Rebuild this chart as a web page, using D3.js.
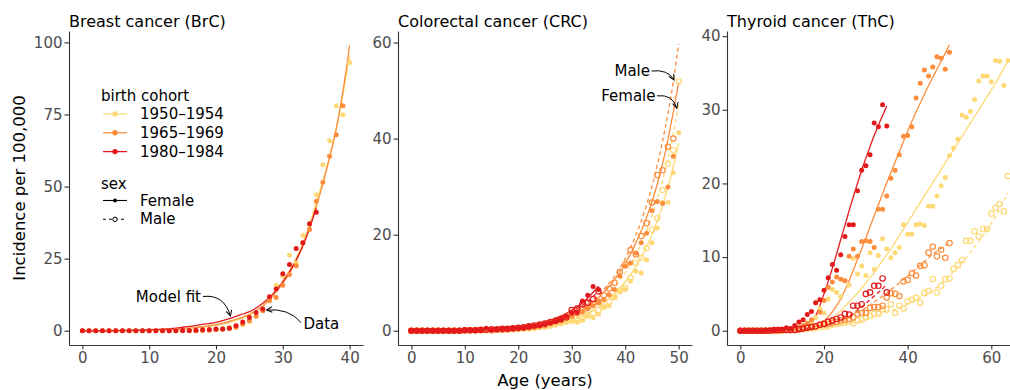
<!DOCTYPE html>
<html>
<head>
<meta charset="utf-8">
<script src="https://cdn.jsdelivr.net/npm/d3@7"></script>
<style>
  body { margin: 0; background: #fff; }
  svg { display: block; font-family: "DejaVu Sans", sans-serif; }
</style>
</head>
<body>
<script>
// values are incidence per 100,000, index = age in years (0, 1, 2, ...)
const cohorts = ["1950–1954", "1965–1969", "1980–1984"];
const cohortColors = ["#FED976", "#FD8D3C", "#E31A1C"];
const sexes = ["Female", "Male"];

// ---- breast cancer (female only) ----
const brcF1950 = [0,0,0,0,0,0,0,0,0,0, 0,0,0,0,0,0,0.1,0.1,0.2,0.3, 0.5,0.8,1.2,1.8,2.2,3.2,5.0,7.0,10.5,15.8, 19.0,26.2,23.5,33.1,37.0,47.2,57.6,65.9,78.0,74.9, 93.0];
const brcF1965 = [0,0,0,0,0,0,0,0,0,0, 0,0,0,0,0,0,0,0,0.1,0.2, 0.3,0.5,0.8,1.2,2.3,3.5,5.0,6.9,10.4,11.5, 15.8,19.5,22.5,30.5,35.1,44.9,51.5,60.5,68.0,78.0];
const brcF1980 = [0,0,0,0,0,0,0,0,0,0, 0,0,0,0,0,0.1,0.1,0.2,0.3,0.4, 0.6,0.6,0.9,1.7,3.0,4.6,6.3,7.5,11.8,14.5, 19.8,23.0,28.5,30.5,37.1,41.1];
const brcFitF1950 = [0,0,0,0,0,0,0,0.05,0.05,0.1, 0.15,0.2,0.3,0.4,0.5,0.65,0.8,1.0,1.25,1.5, 1.8,2.3,2.9,3.6,4.4,5.4,6.8,8.7,11.0,13.8, 17.0,20.8,25.2,30.5,37.0,44.5,52.0,60.5,70.5,82.0, 95.5];
const brcFitF1965 = [0,0,0,0,0,0,0,0.05,0.1,0.1, 0.2,0.25,0.3,0.4,0.55,0.7,0.9,1.1,1.4,1.7, 2.1,2.6,3.2,3.9,4.7,5.7,7.0,8.6,10.7,13.4, 16.5,20.0,24.3,29.5,35.8,43.0,51.0,60.0,70.0,83.0, 99.0];
const brcFitF1980 = [0,0,0,0,0,0.05,0.1,0.15,0.2,0.25, 0.35,0.45,0.55,0.7,0.9,1.2,1.5,1.8,2.2,2.5, 2.9,3.5,4.2,5.0,5.8,6.6,7.9,9.5,11.5,14.0, 17.0,20.5,24.5,29.5,35.5,42.6];

// ---- colorectal cancer ----
const crcF1950 = [0,0,0,0,0,0,0,0,0,0, 0.1,0.1,0.1,0.1,0.1,0.2,0.2,0.2,0.2,0.3, 0.3,0.4,0.4,0.5,0.6,0.8,1.0,1.2,1.6,1.8, 2.0,1.8,2.2,3.0,2.7,3.5,4.9,5.2,7.0,8.1, 8.6,10.3,12.4,12.0,14.8,18.3,21.4,26.7,26.7,32.9, 41.2];
const crcM1950 = [0,0,0,0,0,0,0,0,0,0, 0,0.1,0.1,0.1,0.1,0.1,0.2,0.2,0.2,0.3, 0.4,0.4,0.5,0.6,0.8,0.9,1.1,1.4,1.6,1.9, 2.2,2.0,2.5,3.2,3.6,4.3,5.0,6.1,7.0,8.3, 8.9,11.0,14.1,15.2,17.2,21.0,23.4,29.3,34.8,37.6, 51.9];
const crcF1965 = [0,0,0,0,0,0,0,0,0,0, 0.1,0.1,0.1,0.1,0.1,0.1,0.2,0.2,0.3,0.3, 0.4,0.5,0.6,0.7,0.9,1.2,1.5,1.8,2.1,2.6, 3.0,3.5,3.9,4.6,5.2,6.0,6.5,7.5,8.6,11.4, 13.4,14.1,16.2,18.3,20.3,25.0,26.9,26.5,29.9,36.3];
const crcM1965 = [0,0,0,0,0,0,0,0,0,0, 0.1,0.1,0.1,0.1,0.2,0.1,0.2,0.2,0.3,0.4, 0.5,0.6,0.7,0.9,1.1,1.3,1.7,2.0,2.5,2.9, 3.4,3.8,4.4,5.0,5.6,6.0,7.4,8.8,10.0,12.2, 13.8,16.8,15.9,19.7,22.4,26.7,32.4,33.4,38.3,40.0];
const crcF1980 = [0,0,0,0,0,0,0,0,0,0, 0.1,0.1,0.1,0.1,0.5,0.2,0.3,0.4,0.4,0.5, 0.5,0.6,0.9,1.0,1.1,1.3,1.6,2.0,2.5,3.0, 3.7,3.8,6.2,7.4,9.2,8.6];
const crcM1980 = [0,0,0,0,0,0,0,0,0,0, 0.1,0.1,0.1,0.2,0.2,0.3,0.3,0.4,0.4,0.5, 0.6,0.7,0.9,1.1,1.3,1.5,1.8,2.1,2.4,2.8, 4.3,4.6,5.5,5.8,6.6,8.2];
const crcFitF1950 = [0,0,0,0,0,0,0,0,0,0, 0,0.1,0.1,0.1,0.1,0.1,0.2,0.2,0.3,0.3, 0.4,0.5,0.6,0.7,0.85,1.0,1.2,1.4,1.7,2.0, 2.3,2.7,3.2,3.7,4.3,5.0,5.8,6.7,7.7,8.9, 10.2,11.7,13.4,15.3,17.5,20.0,22.9,26.1,29.9,34.2, 39.0];
const crcFitM1950 = [0,0,0,0,0,0,0,0,0,0, 0,0.1,0.1,0.1,0.1,0.1,0.2,0.3,0.3,0.4, 0.5,0.6,0.7,0.85,1.0,1.2,1.4,1.7,2.0,2.3, 2.7,3.2,3.7,4.3,5.0,5.9,6.8,7.9,9.1,10.5, 12.0,13.8,15.8,18.1,20.8,23.8,27.3,31.2,35.8,41.0, 47.0];
const crcFitF1965 = [0,0,0,0,0,0,0,0,0.1,0.1, 0.1,0.1,0.1,0.2,0.2,0.2,0.3,0.3,0.4,0.5, 0.6,0.7,0.9,1.1,1.3,1.5,1.8,2.1,2.4,2.8, 3.2,3.8,4.4,5.1,6.0,6.9,8.0,9.2,10.6,12.2, 14.0,16.0,18.3,20.8,23.6,26.8,30.5,34.8,39.8,45.5, 51.7];
const crcFitM1965 = [0,0,0,0,0,0,0,0,0.1,0.1, 0.1,0.1,0.2,0.2,0.2,0.3,0.3,0.4,0.4,0.5, 0.6,0.75,0.9,1.1,1.35,1.6,1.9,2.3,2.7,3.1, 3.5,4.2,4.9,5.6,6.5,7.4,8.6,9.9,11.3,13.0, 15.0,17.3,19.9,22.8,26.2,30.0,34.5,39.5,45.2,51.8, 59.7];
const crcFitF1980 = [0,0,0,0,0,0,0,0,0.1,0.1, 0.1,0.1,0.2,0.2,0.3,0.3,0.4,0.5,0.6,0.7, 0.8,1.0,1.2,1.4,1.6,1.9,2.2,2.6,3.1,3.6, 4.3,5.0,5.8,6.8,8.0,9.3];
const crcFitM1980 = [0,0,0,0,0,0,0,0,0.1,0.1, 0.1,0.1,0.2,0.2,0.3,0.3,0.4,0.5,0.6,0.7, 0.8,1.0,1.1,1.3,1.5,1.8,2.1,2.4,2.9,3.4, 4.0,4.6,5.3,6.1,7.1,8.3];

// ---- thyroid cancer ----
const thcF1950 = [0,0,0,0,0,0,0,0.1,0.1,0.1, 0.2,0.2,0.3,0.3,0.4,0.6,0.8,1.2,1.8,3.0, 2.4,4.3,5.6,5.2,4.6,6.8,6.2,9.8,7.7,8.8, 7.5,10.6,8.3,10.2,12.5,11.1,9.9,10.6,11.3,14.4, 13.1,13.1,14.4,14.5,14.3,16.9,16.9,18.3,19.7,20.8, 23.8,24.8,26.0,29.3,29.0,29.8,31.4,33.9,34.6,34.6, 33.8,36.7,36.6,33.3,36.7];
const thcM1950 = [0,0,0,0,0,0,0,0,0,0, 0,0.1,0.1,0.1,0.2,0.2,0.3,0.3,0.4,0.5, 0.5,0.6,0.8,0.9,1.0,1.1,1.3,1.0,1.4,1.5, 1.8,2.0,2.3,2.3,2.9,2.9,3.6,2.4,3.4,3.0, 4.0,4.2,4.5,3.8,5.1,5.4,7.0,5.2,6.1,7.0, 7.1,8.4,8.9,9.6,12.2,12.2,13.5,12.8,13.8,13.8, 15.9,16.7,17.2,16.2,21.0];
const thcF1965 = [0,0,0,0,0,0,0,0.1,0.1,0.1, 0.2,0.2,0.3,0.4,0.5,0.7,1.0,1.5,3.8,2.5, 4.1,5.9,6.6,7.3,7.0,6.8,10.1,11.1,10.1,12.1, 12.2,12.1,11.3,16.5,16.5,18.3,20.7,21.8,23.9,26.4, 26.5,27.7,31.6,33.6,35.4,34.6,35.8,37.2,37.0,35.5, 37.8];
const thcM1965 = [0,0,0,0,0,0,0,0,0,0, 0.1,0.1,0.1,0.1,0.2,0.3,0.4,0.5,0.6,0.8, 1.0,0.9,1.1,1.2,1.4,1.5,1.6,1.8,2.3,2.4, 2.4,3.1,3.2,3.2,3.4,4.5,5.1,5.0,4.7,6.7, 6.9,7.8,7.5,8.8,8.9,10.6,11.4,10.1,11.0,9.9, 11.9];
const thcF1980 = [0,0,0,0,0,0,0.1,0.1,0.1,0.2, 0.2,0.4,0.3,0.7,1.2,1.5,2.2,2.6,3.8,4.2, 5.5,7.2,9.0,8.2,10.3,12.8,14.4,14.4,19.0,21.8, 22.4,23.9,28.2,27.7,30.7,27.8];
const thcM1980 = [0,0,0,0,0,0,0,0,0.1,0.1, 0.1,0.1,0.1,0.1,0.2,0.3,0.4,0.5,0.6,0.8, 0.9,1.2,1.4,1.6,1.8,2.3,2.2,3.4,3.4,3.6, 5.0,5.2,6.1,6.1,7.1,5.2];
const thcFitF1950 = [0,0,0,0,0,0,0,0,0,0, 0,0,0,0,0,0.1,0.2,0.3,0.5,0.7, 1.0,1.3,1.7,2.2,2.7,3.3,3.9,4.5,5.1,5.8, 6.5,7.2,7.9,8.7,9.5,10.3,11.1,12.0,12.9,13.8, 14.7,15.6,16.5,17.4,18.3,19.2,20.1,21.0,21.9,22.8, 23.7,24.6,25.5,26.4,27.3,28.2,29.1,30.0,30.9,31.8, 32.7,33.6,34.6,35.6,36.6];
const thcFitM1950 = [0,0,0,0,0,0,0,0,0,0, 0,0,0,0.05,0.1,0.15,0.2,0.25,0.3,0.35, 0.4,0.5,0.6,0.7,0.8,0.9,1.0,1.1,1.25,1.4, 1.5,1.7,1.9,2.1,2.3,2.5,2.7,2.9,3.1,3.35, 3.6,3.9,4.2,4.5,4.8,5.1,5.5,5.9,6.4,6.9, 7.5,8.1,8.7,9.3,10.0,10.7,11.4,12.1,12.9,13.7, 14.6,15.5,16.5,17.6,18.7];
const thcFitF1965 = [0,0,0,0,0,0,0,0,0,0, 0,0,0,0,0,0,0.1,0.3,0.6,0.8, 1.3,1.9,2.6,3.4,4.3,5.5,6.8,8.2,9.7,11.1, 12.6,14.1,15.6,17.1,18.6,20.1,21.5,22.9,24.3,25.7, 27.1,28.4,29.7,30.9,32.1,33.3,34.4,35.5,36.6,37.7, 38.8];
const thcFitM1965 = [0,0,0,0,0,0,0,0,0,0, 0,0,0,0.05,0.1,0.15,0.2,0.3,0.4,0.5, 0.6,0.8,1.0,1.2,1.4,1.6,1.9,2.2,2.5,2.8, 3.1,3.5,3.9,4.3,4.7,5.1,5.6,6.0,6.5,7.0, 7.4,7.9,8.4,8.9,9.4,9.9,10.4,10.8,11.2,11.6, 12.0];
const thcFitF1980 = [0,0,0,0,0,0,0,0,0,0, 0,0,0,0,0,0.1,0.3,0.9,2.0,3.4, 5.0,6.7,8.5,10.4,12.4,14.3,16.3,18.2,20.0,21.8, 23.4,25.0,26.5,27.9,29.2,30.5];
const thcFitM1980 = [0,0,0,0,0,0,0,0,0,0, 0,0,0,0.05,0.1,0.15,0.2,0.3,0.4,0.5, 0.6,0.8,1.0,1.2,1.4,1.7,2.0,2.4,2.8,3.2, 3.7,4.2,4.7,5.2,5.7,6.3];

// panel layout
const width = 1010, height = 390;
const plotTop = 31, plotH = 314, plotW = 294;

const panels = [
  { title: "Breast cancer (BrC)", left: 69, xDomain: [-2, 42], yDomain: [-4.95, 103.95],
    xTicks: [0, 10, 20, 30, 40], yTicks: [0, 25, 50, 75, 100],
    series: [
      { c: 0, sex: "Female", data: brcF1950, fit: brcFitF1950 },
      { c: 1, sex: "Female", data: brcF1965, fit: brcFitF1965 },
      { c: 2, sex: "Female", data: brcF1980, fit: brcFitF1980 }
    ] },
  { title: "Colorectal cancer (CRC)", left: 398, xDomain: [-2.5, 52.5], yDomain: [-2.97, 62.4],
    xTicks: [0, 10, 20, 30, 40, 50], yTicks: [0, 20, 40, 60],
    series: [
      { c: 0, sex: "Male", data: crcM1950, fit: crcFitM1950 },
      { c: 0, sex: "Female", data: crcF1950, fit: crcFitF1950 },
      { c: 1, sex: "Male", data: crcM1965, fit: crcFitM1965 },
      { c: 1, sex: "Female", data: crcF1965, fit: crcFitF1965 },
      { c: 2, sex: "Male", data: crcM1980, fit: crcFitM1980 },
      { c: 2, sex: "Female", data: crcF1980, fit: crcFitF1980 }
    ] },
  { title: "Thyroid cancer (ThC)", left: 727, xDomain: [-3.2, 67.1], yDomain: [-1.94, 40.7],
    xTicks: [0, 20, 40, 60], yTicks: [0, 10, 20, 30, 40],
    series: [
      { c: 0, sex: "Male", data: thcM1950, fit: thcFitM1950 },
      { c: 0, sex: "Female", data: thcF1950, fit: thcFitF1950 },
      { c: 1, sex: "Male", data: thcM1965, fit: thcFitM1965 },
      { c: 1, sex: "Female", data: thcF1965, fit: thcFitF1965 },
      { c: 2, sex: "Male", data: thcM1980, fit: thcFitM1980 },
      { c: 2, sex: "Female", data: thcF1980, fit: thcFitF1980 }
    ] }
];

const svg = d3.select("body").append("svg")
  .attr("width", width)
  .attr("height", height)
  .attr("viewBox", [0, 0, width, height]);

const defs = svg.append("defs");
defs.append("marker")
  .attr("id", "arrow")
  .attr("viewBox", "0 0 10 10")
  .attr("refX", 9).attr("refY", 5)
  .attr("markerWidth", 7).attr("markerHeight", 7)
  .attr("markerUnits", "userSpaceOnUse")
  .attr("orient", "auto")
  .append("path")
  .attr("d", "M1,1 L9,5 L1,9")
  .attr("fill", "none")
  .attr("stroke", "#000")
  .attr("stroke-width", 1.4);

const color = d3.scaleOrdinal().domain(d3.range(cohorts.length)).range(cohortColors);

panels.forEach(p => {
  const g = svg.append("g").attr("transform", `translate(${p.left},${plotTop})`);
  const x = d3.scaleLinear().domain(p.xDomain).range([0, plotW]);
  const y = d3.scaleLinear().domain(p.yDomain).range([plotH, 0]);

  // axes
  const yAxis = g.append("g")
    .call(d3.axisLeft(y).tickValues(p.yTicks).tickSize(4.5).tickSizeOuter(0).tickPadding(2));
  const xAxis = g.append("g")
    .attr("transform", `translate(0,${plotH})`)
    .call(d3.axisBottom(x).tickValues(p.xTicks).tickSize(4.5).tickSizeOuter(0).tickPadding(2.5));
  [xAxis, yAxis].forEach(a => {
    a.select(".domain").attr("stroke", "#333").attr("stroke-width", 1.1);
    a.selectAll(".tick line").attr("stroke", "#333").attr("stroke-width", 1.1);
    a.selectAll(".tick text")
      .attr("fill", "#4D4D4D")
      .style("font-family", "DejaVu Sans, sans-serif")
      .style("font-size", "15px");
  });

  g.append("text")
    .attr("x", 0).attr("y", -4.5)
    .attr("font-size", 16)
    .attr("fill", "#000")
    .text(p.title);

  // fitted curves
  const line = d3.line()
    .x((d, i) => x(i))
    .y(d => y(d))
    .curve(d3.curveMonotoneX);

  g.append("g").selectAll("path")
    .data(p.series)
    .join("path")
    .attr("d", s => line(s.fit))
    .attr("fill", "none")
    .attr("stroke", s => color(s.c))
    .attr("stroke-width", 1.3)
    .attr("stroke-dasharray", s => s.sex === "Male" ? "4,3" : null);

  // observed points
  p.series.forEach(s => {
    const pts = g.append("g").selectAll("circle")
      .data(s.data)
      .join("circle")
      .attr("cx", (d, i) => x(i))
      .attr("cy", d => y(d));
    if (s.sex === "Female") {
      pts.attr("r", 2.5).attr("fill", color(s.c));
    } else {
      pts.attr("r", 2.7).attr("fill", "none")
        .attr("stroke", color(s.c)).attr("stroke-width", 1.2);
    }
  });
});

// axis titles
svg.append("text")
  .attr("transform", "translate(19,188) rotate(-90)")
  .attr("text-anchor", "middle")
  .attr("dominant-baseline", "central")
  .attr("font-size", 16.5)
  .text("Incidence per 100,000");

svg.append("text")
  .attr("x", 545).attr("y", 385.5)
  .attr("text-anchor", "middle")
  .attr("font-size", 16.5)
  .text("Age (years)");

// legend (inside the breast cancer panel)
const legend = svg.append("g").attr("font-size", 15);
legend.append("text").attr("x", 101).attr("y", 100.5).text("birth cohort");
const cohortKeys = legend.append("g").selectAll("g")
  .data(cohorts)
  .join("g")
  .attr("transform", (d, i) => `translate(0,${114 + i * 18.8})`);
cohortKeys.append("line")
  .attr("x1", 103).attr("x2", 127)
  .attr("stroke", (d, i) => color(i)).attr("stroke-width", 1.3);
cohortKeys.append("circle")
  .attr("cx", 115).attr("r", 2.7)
  .attr("fill", (d, i) => color(i));
cohortKeys.append("text")
  .attr("x", 140).attr("dominant-baseline", "central")
  .text(d => d);

legend.append("text").attr("x", 101).attr("y", 188.5).text("sex");
const sexKeys = legend.append("g").selectAll("g")
  .data(sexes)
  .join("g")
  .attr("transform", (d, i) => `translate(0,${200.5 + i * 18.8})`);
sexKeys.append("line")
  .attr("x1", 103).attr("x2", 127)
  .attr("stroke", "#000").attr("stroke-width", 1.1)
  .attr("stroke-dasharray", d => d === "Male" ? "3,3" : null);
sexKeys.append("circle")
  .attr("cx", 115)
  .attr("r", d => d === "Male" ? 2.2 : 1.9)
  .attr("fill", d => d === "Male" ? "#fff" : "#000")
  .attr("stroke", "#000")
  .attr("stroke-width", d => d === "Male" ? 1 : 0);
sexKeys.append("text")
  .attr("x", 140).attr("dominant-baseline", "central")
  .text(d => d);

// annotations
const notes = [
  { text: "Model fit", x: 201, y: 296.5, anchor: "end", path: "M203,296.5 Q224,294 230.5,316" },
  { text: "Data", x: 303.5, y: 323.5, anchor: "start", path: "M301,322.5 Q289,308 266.5,310" },
  { text: "Male", x: 650, y: 71, anchor: "end", path: "M651.5,71 Q668,69 674,80" },
  { text: "Female", x: 655.5, y: 95.8, anchor: "end", path: "M657,95.8 Q673,94 676.8,108.3" }
];
const ann = svg.append("g");
ann.selectAll("text")
  .data(notes)
  .join("text")
  .attr("x", d => d.x).attr("y", d => d.y)
  .attr("text-anchor", d => d.anchor)
  .attr("dominant-baseline", "central")
  .attr("font-size", 15)
  .text(d => d.text);
ann.selectAll("path")
  .data(notes)
  .join("path")
  .attr("d", d => d.path)
  .attr("fill", "none")
  .attr("stroke", "#000")
  .attr("stroke-width", 1)
  .attr("marker-end", "url(#arrow)");
</script>
</body>
</html>
